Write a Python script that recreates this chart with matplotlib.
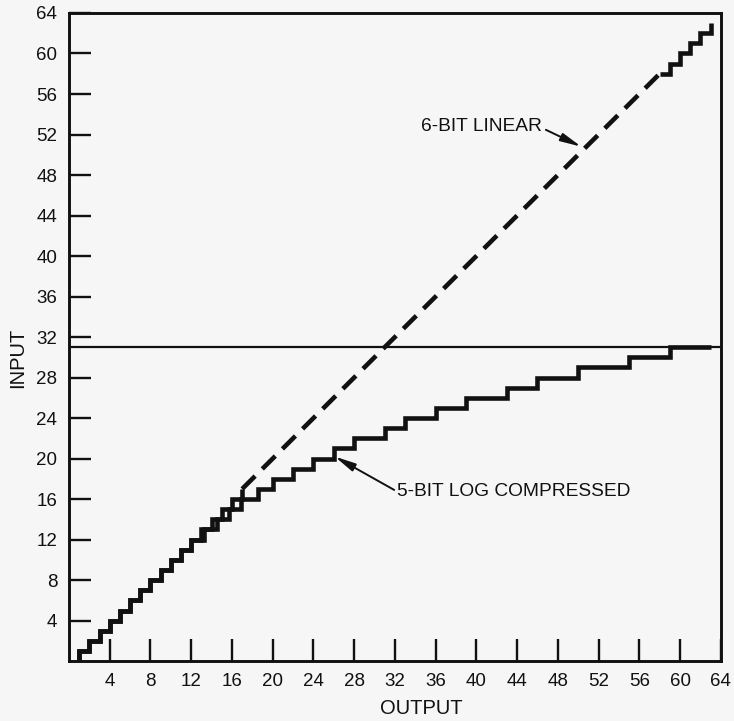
import numpy as np
import matplotlib
matplotlib.use('Agg')
import matplotlib.pyplot as plt

plt.rcParams['font.family'] = ['Liberation Sans', 'DejaVu Sans']

###############################################################################
# Data
###############################################################################
# 5-bit log compressed: output value where each step starts, input level
logEdges = [
    1, 1, 2, 3, 4, 5, 6, 7, 8, 9, 10, 11, 12, 13.3, 14.5, 15.7, 16.9, 18.6,
    20, 22, 24, 26, 28, 31, 33, 36, 39, 43, 46, 50, 55, 59, 63
]
logLevels = [
    0, 1, 2, 3, 4, 5, 6, 7, 8, 9, 10, 11, 12, 13, 14, 15, 16, 17,
    18, 19, 20, 21, 22, 23, 24, 25, 26, 27, 28, 29, 30, 31, 31
]
# 6-bit linear: stepped low part, dashed middle, stepped top part
linLowX = [1, 1, 2, 3, 4, 5, 6, 7, 8, 9, 10, 11, 12, 13, 14, 15, 16, 17]
linLowY = [0, 1, 2, 3, 4, 5, 6, 7, 8, 9, 10, 11, 12, 13, 14, 15, 16, 17]
linMidX = [17, 58]
linMidY = [17, 58]
linTopX = [58, 59, 60, 61, 62, 63]
linTopY = [58, 59, 60, 61, 62, 63]
# 5-bit ceiling
ceilY = 31
ticks = list(range(4, 68, 4))

###############################################################################
# Plot
###############################################################################
(bg, fg) = ('#f6f6f6', '#111111')
(fig, ax) = plt.subplots(figsize=(7.34, 7.21), dpi=100, facecolor=bg)
fig.subplots_adjust(left=0.094, right=0.982, bottom=0.083, top=0.982)
ax.set_facecolor(bg)
# Curves ----------------------------------------------------------------------
stepKw = dict(where='post', color=fg, lw=3.3,
              solid_joinstyle='miter', solid_capstyle='butt', zorder=5)
ax.step(logEdges, logLevels, **stepKw)
ax.step(linLowX, linLowY, **stepKw)
ax.step(linTopX, linTopY, **stepKw)
ax.plot(linMidX, linMidY, color=fg, lw=3.3, dashes=(4, 2.2),
        dash_capstyle='butt', zorder=5)
ax.axhline(ceilY, color=fg, lw=1.6, zorder=4)
# Annotations -----------------------------------------------------------------
arrowKw = dict(arrowstyle='-|>,head_length=0.9,head_width=0.18',
               color=fg, lw=1.4, shrinkA=0, shrinkB=0)
ax.annotate('6-BIT LINEAR', xy=(50.3, 50.8), xytext=(34.6, 52.8),
            fontsize=13.8, color=fg, va='center', ha='left',
            arrowprops=dict(**arrowKw, relpos=(1.03, 0.3)))
ax.annotate('5-BIT LOG COMPRESSED', xy=(26.1, 20.2), xytext=(32.2, 16.8),
            fontsize=13.8, color=fg, va='center', ha='left',
            arrowprops=dict(**arrowKw, relpos=(-0.01, 0.55)))
# Axes styling ----------------------------------------------------------------
ax.set_xlim(0, 64); ax.set_ylim(0, 64)
ax.set_xticks(ticks); ax.set_yticks(ticks)
ax.tick_params(axis='both', which='major', direction='in', length=16,
               width=1.7, color=fg, labelsize=13.5, labelcolor=fg, pad=8.5)
for sp in ax.spines.values():
    sp.set_linewidth(2.1); sp.set_color(fg)
fig.text(421/734, 1-709/721, 'OUTPUT', fontsize=14.5, color=fg,
         ha='center', va='center')
fig.text(18/734, 1-358/721, 'INPUT', fontsize=14.5, color=fg,
         ha='center', va='center', rotation=90)
# Export ----------------------------------------------------------------------
fig.savefig('out.png', dpi=100, facecolor=bg)
